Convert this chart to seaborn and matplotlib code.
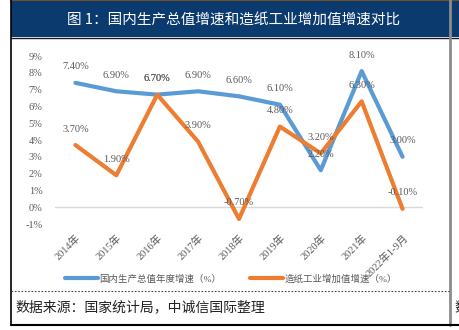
import matplotlib
matplotlib.use("Agg")
import matplotlib.pyplot as plt
import seaborn as sns
import pandas as pd
from matplotlib.patches import Rectangle
from matplotlib.lines import Line2D

categories = ["2014年", "2015年", "2016年", "2017年", "2018年", "2019年", "2020年", "2021年", "2022年1-9月"]
gdp_growth = [7.4, 6.9, 6.7, 6.9, 6.6, 6.1, 2.2, 8.1, 3.0]
paper_growth = [3.7, 1.9, 6.7, 3.9, -0.7, 4.8, 3.2, 6.3, -0.1]
series_names = ["国内生产总值年度增速（%）", "造纸工业增加值增速（%）"]
y_ticks = list(range(-1, 10))
title_text = "图 1：国内生产总值增速和造纸工业增加值增速对比"
source_text = "数据来源：国家统计局，中诚信国际整理"

sns.set_theme(style="white")
plt.rcParams['font.family'] = ['Liberation Serif', 'Noto Sans CJK SC', 'DejaVu Sans']

df = pd.DataFrame({
    "cat": categories * 2,
    "val": gdp_growth + paper_growth,
    "series": [series_names[0]] * len(categories) + [series_names[1]] * len(categories),
})
palette = {series_names[0]: "#5B9BD5", series_names[1]: "#ED7D31"}

fig = plt.figure(figsize=(4.6, 3.3), dpi=100)
W, H = 460.0, 330.0

# title band
fig.patches.append(Rectangle((11 / W, (H - 37) / H), 1 - 11 / W, 36 / H,
                             transform=fig.transFigure, facecolor="#0b3a6e", edgecolor="none", zorder=0))
fig.lines.append(Line2D([11 / W, 1], [(H - 37.5) / H] * 2, transform=fig.transFigure, color="#1a1a1a", lw=1))
fig.lines.append(Line2D([11 / W, 1], [(H - 0.8) / H] * 2, transform=fig.transFigure, color="#333333", lw=1.2))
fig.text(234 / W, (H - 20) / H, title_text, color="white", fontsize=10.5,
         ha="center", va="center", family=['Noto Sans CJK SC', 'DejaVu Sans'])

# borders
fig.lines.append(Line2D([10.8 / W] * 2, [(H - 324.5) / H, 1], transform=fig.transFigure, color="black", lw=1.2))
fig.lines.append(Line2D([450 / W] * 2, [(H - 324.5) / H, 1], transform=fig.transFigure, color="#8c8c8c", lw=2))
fig.lines.append(Line2D([10.8 / W, 1], [(H - 324.5) / H] * 2, transform=fig.transFigure, color="black", lw=1.5))
fig.lines.append(Line2D([11 / W, 449 / W], [(H - 291) / H] * 2, transform=fig.transFigure,
                        color="#444444", lw=0.8, linestyle=(0, (1.5, 1.5))))
fig.text(15 / W, (H - 307) / H, source_text, fontsize=10, ha="left", va="center",
         color="#222222", style="italic", family=['Noto Sans CJK SC', 'DejaVu Sans'])
fig.text(454 / W, (H - 307) / H, source_text[0], fontsize=10, ha="left", va="center",
         color="#222222", family=['Noto Sans CJK SC', 'DejaVu Sans'])

ax = fig.add_axes([55 / W, (H - 224) / H, 368 / W, 168 / H])
sns.lineplot(data=df, x="cat", y="val", hue="series", palette=palette, ax=ax,
             linewidth=3.0, sort=False, legend=False)
ax.set_xlim(-0.5, len(categories) - 0.5)
ax.set_ylim(-1, 9)
ax.set_yticks(y_ticks)
ax.set_yticklabels([f"{t}%" for t in y_ticks])
ax.set_xticks(range(len(categories)))
ax.set_xticklabels(categories, rotation=45, ha="right", rotation_mode="anchor")
ax.tick_params(axis="both", labelsize=7.5, labelcolor="#595959", length=0)
ax.tick_params(axis="y", pad=9)
ax.tick_params(axis="x", pad=6)
for s in ax.spines.values():
    s.set_visible(False)
ax.axhline(0, color="#d9d9d9", lw=1, zorder=0)
ax.set_xlabel("")
ax.set_ylabel("")
ax.patch.set_alpha(0)

for vals in (gdp_growth, paper_growth):
    for i, v in enumerate(vals):
        ax.annotate(f"{v:.2f}%", (i, v), xytext=(0, 11.5), textcoords="offset points",
                    ha="center", va="center", fontsize=7.5, color="#595959")

handles = [Line2D([], [], color=palette[n], lw=3.0, solid_capstyle="round") for n in series_names]
fig.legend(handles, series_names, loc="center", bbox_to_anchor=(231 / W, (H - 279) / H), ncol=2,
           frameon=False, fontsize=6.8, handlelength=3.5, handletextpad=0.2, columnspacing=3.0,
           labelcolor="#595959")

fig.savefig("out.png", dpi=100)
